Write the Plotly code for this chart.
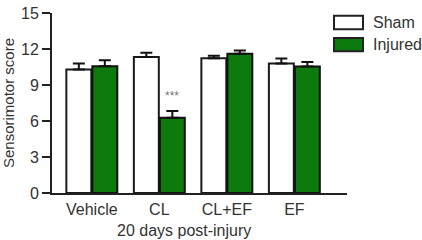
import plotly.graph_objects as go

categories = ["Vehicle", "CL", "CL+EF", "EF"]
sham = [10.3, 11.33, 11.22, 10.8]
sham_err = [0.5, 0.35, 0.22, 0.4]
injured = [10.56, 6.28, 11.6, 10.54]
injured_err = [0.5, 0.56, 0.27, 0.38]
y_ticks = [0, 3, 6, 9, 12, 15]
sig_label = "***"
sig_y = 8.1

W, H = 422, 240
ML, MR, MT, MB = 52, 75, 5, 47
GREEN = "#0c7a0c"
FONT = "Arial, Liberation Sans, sans-serif"
TXT = "#333"
BARGAP = 0.23
GROUPGAP = 0.04

fig = go.Figure()
fig.add_bar(x=categories, y=sham, name="Sham",
            marker=dict(color="white", line=dict(color="#1a1a1a", width=2)),
            error_y=dict(type="data", symmetric=False, array=sham_err,
                         arrayminus=[0]*4, color="#111", thickness=2, width=6))
fig.add_bar(x=categories, y=injured, name="Injured",
            marker=dict(color=GREEN, line=dict(color="#111", width=2)),
            error_y=dict(type="data", symmetric=False, array=injured_err,
                         arrayminus=[0]*4, color="#111", thickness=2, width=6))

# significance marker over CL injured bar
off = (1 - BARGAP) / 4
fig.add_annotation(x=categories.index("CL") + off, y=sig_y, xref="x", yref="y",
                   text=sig_label, showarrow=False,
                   font=dict(family=FONT, size=12, color="#777"))

pw = W - ML - MR
ph = H - MT - MB
def px_x(p):
    return (p - ML) / pw
def px_y(p):
    return 1 - (p - MT) / ph

# legend drawn manually
for name, fill, top in [("Sham", "white", 8), ("Injured", GREEN, 31)]:
    fig.add_shape(type="rect", xref="paper", yref="paper",
                  x0=px_x(334), x1=px_x(363), y0=px_y(top), y1=px_y(top + 14),
                  fillcolor=fill, line=dict(color="#222", width=2))
    fig.add_annotation(xref="paper", yref="paper", x=px_x(371), y=px_y(top + 7),
                       text=name, showarrow=False, xanchor="left", yanchor="middle",
                       font=dict(family=FONT, size=16, color=TXT))

fig.add_annotation(xref="paper", yref="paper", x=px_x(184), y=px_y(232),
                   text="20 days post-injury", showarrow=False,
                   xanchor="center", yanchor="middle",
                   font=dict(family=FONT, size=16, color=TXT))

fig.update_layout(
    width=W, height=H,
    margin=dict(l=ML, r=MR, t=MT, b=MB, pad=0),
    paper_bgcolor="white", plot_bgcolor="white",
    barmode="group", bargap=BARGAP, bargroupgap=GROUPGAP,
    showlegend=False,
    font=dict(family=FONT, size=16, color=TXT),
)
fig.update_xaxes(range=[-0.59, 3.78], showline=True, linecolor="#222", linewidth=2,
                 ticks="", showgrid=False, zeroline=False, ticklabelstandoff=1,
                 tickfont=dict(family=FONT, size=16, color=TXT))
fig.update_yaxes(range=[0, 15], tickvals=y_ticks, showline=True, linecolor="#222",
                 linewidth=2, ticks="outside", ticklen=8, tickwidth=2, tickcolor="#222",
                 showgrid=False, zeroline=False, ticklabeloverflow="allow",
                 ticklabelstandoff=0,
                 title=dict(text="Sensorimotor score", standoff=4,
                            font=dict(family=FONT, size=15, color=TXT)),
                 tickfont=dict(family=FONT, size=16, color=TXT))

fig.write_html("out.html", config={"displayModeBar": False},
               post_script="document.body.style.margin='0';")
